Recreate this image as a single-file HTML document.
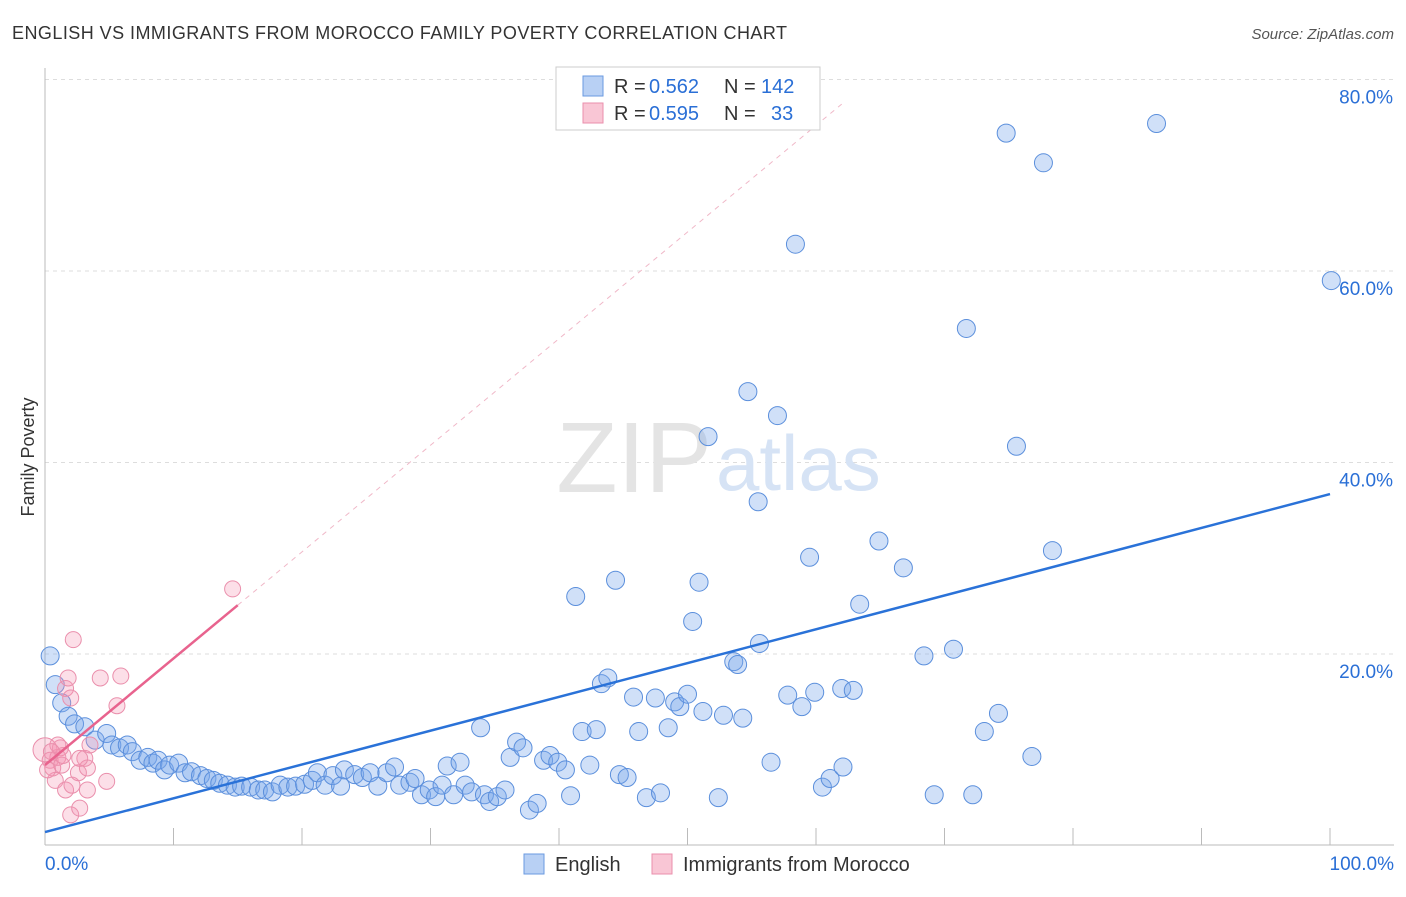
<!DOCTYPE html>
<html><head><meta charset="utf-8"><style>
body{margin:0;background:#fff;font-family:"Liberation Sans",sans-serif;}
svg text{font-family:"Liberation Sans",sans-serif;}
</style></head><body>
<svg id="chart" width="1406" height="892">
<text x="12" y="39" font-size="18" fill="#333" textLength="775">ENGLISH VS IMMIGRANTS FROM MOROCCO FAMILY POVERTY CORRELATION CHART</text>
<text x="1394" y="39" font-size="15" fill="#555" font-style="italic" text-anchor="end">Source: ZipAtlas.com</text>
<text x="34" y="457" font-size="18" fill="#333" transform="rotate(-90 34 457)" text-anchor="middle">Family Poverty</text>
<g id="grid"></g>
<text x="712" y="492" font-size="100" fill="#e4e4e4" text-anchor="end" font-family="Liberation Serif">ZIP</text>
<text x="716" y="490" font-size="78" fill="#d6e3f5">atlas</text>
<g id="pts"></g>
<g id="lines"></g>
<g>
<rect x="556" y="67" width="264" height="63" fill="#fff" stroke="#ccc"/>
<rect x="583" y="76" width="20" height="20" fill="#b8d0f4" stroke="#6a9ae0"/>
<rect x="583" y="103" width="20" height="20" fill="#f9c6d5" stroke="#ea8fac"/>
<text y="93" font-size="20" fill="#333"><tspan x="614">R =</tspan><tspan x="649" fill="#2a6fd6">0.562</tspan><tspan x="724">N =</tspan><tspan x="761" fill="#2a6fd6">142</tspan></text>
<text y="120" font-size="20" fill="#333"><tspan x="614">R =</tspan><tspan x="649" fill="#2a6fd6">0.595</tspan><tspan x="724">N =</tspan><tspan x="771" fill="#2a6fd6">33</tspan></text>
</g>
<g>
<rect x="524" y="854" width="20" height="20" fill="#b8d0f4" stroke="#6a9ae0"/>
<text x="555" y="871" font-size="20" fill="#333">English</text>
<rect x="652" y="854" width="20" height="20" fill="#f9c6d5" stroke="#ea8fac"/>
<text x="683" y="871" font-size="20" fill="#333">Immigrants from Morocco</text>
</g>
</svg>
<script>
const englishX=[0.4,0.8,1.3,1.8,2.3,3.1,3.9,4.8,5.2,5.8,6.4,6.8,7.4,8.0,8.4,8.8,9.3,9.7,10.4,10.9,11.4,12.1,12.6,13.1,13.6,14.2,14.8,15.3,16.0,16.6,17.1,17.7,18.3,18.9,19.5,20.2,20.8,21.2,21.8,22.4,23.0,23.3,24.1,24.7,25.3,25.9,26.6,27.2,27.6,28.4,28.8,29.3,29.9,30.4,30.9,31.3,31.8,32.3,32.7,33.2,33.9,34.2,34.6,35.2,35.8,36.2,36.7,37.2,37.7,38.3,38.8,39.3,39.9,40.5,40.9,41.3,41.8,42.4,42.9,43.3,43.8,44.4,44.7,45.3,45.8,46.2,46.8,47.5,47.9,48.5,49.0,49.4,50.0,50.4,50.9,51.2,51.6,52.4,52.8,53.6,53.9,54.3,54.7,55.5,55.6,56.5,57.0,57.8,58.4,58.9,59.5,59.9,60.5,61.1,62.0,62.1,62.9,63.4,64.9,66.8,68.4,69.2,70.7,71.7,72.2,73.1,74.2,74.8,75.6,76.8,77.7,78.4,86.5,100.1];
const englishY=[19.8,16.8,14.9,13.5,12.7,12.4,11.0,11.7,10.5,10.2,10.5,9.8,8.9,9.2,8.6,8.9,7.9,8.4,8.6,7.6,7.7,7.3,7.0,6.8,6.5,6.3,6.1,6.2,6.1,5.8,5.8,5.6,6.3,6.1,6.2,6.4,6.8,7.6,6.3,7.3,6.2,7.9,7.4,7.1,7.6,6.2,7.6,8.2,6.3,6.6,7.0,5.3,5.8,5.1,6.3,8.3,5.3,8.7,6.3,5.6,12.3,5.3,4.6,5.1,5.8,9.2,10.8,10.2,3.7,4.4,8.9,9.4,8.7,7.9,5.2,26.0,11.9,8.4,12.1,16.9,17.5,27.7,7.4,7.1,15.5,11.9,5.0,15.4,5.5,12.3,15.0,14.5,15.8,23.4,27.5,14.0,42.7,5.0,13.6,19.2,18.9,13.3,47.4,35.9,21.1,8.7,44.9,15.7,62.8,14.5,30.1,16.0,6.1,7.0,16.4,8.2,16.2,25.2,31.8,29.0,19.8,5.3,20.5,54.0,5.3,11.9,13.8,74.4,41.7,9.3,71.3,30.8,75.4,59.0];
const moroccoX=[0,0.4,0.6,1.0,1.3,0.8,0.2,1.2,1.6,1.8,2.0,2.2,1.6,2.0,2.7,2.1,2.6,3.1,3.3,3.3,2.7,4.3,4.8,5.6,5.9,14.6,1.4,1.0,3.5,0.5];
const moroccoY=[10.0,8.9,8.1,9.2,8.4,6.8,7.9,10.2,16.4,17.5,15.4,21.5,5.8,3.2,3.9,6.3,7.6,9.1,8.1,5.8,9.1,17.5,6.7,14.6,17.7,26.8,9.4,10.5,10.5,9.8];
const yTicks=[20,40,60,80];
const trendEnglish=[1.4,36.7];
const trendMorocco=[8.4,25.1];
const NS="http://www.w3.org/2000/svg";
const sx=v=>45+v*12.85, sy=v=>845.5-v*9.575;
function mk(t,a,p){const e=document.createElementNS(NS,t);for(const k in a)e.setAttribute(k,a[k]);p.appendChild(e);return e;}
const grid=document.getElementById('grid');
yTicks.forEach(t=>{
 const l=mk('line',{x1:45,x2:1394,y1:sy(t),y2:sy(t),stroke:'#ddd','stroke-dasharray':'4,4'},grid);
 
 
 const tx=mk('text',{x:1393,y:sy(t)+24,'font-size':19,fill:'#2a6fd6','text-anchor':'end'},grid);
 tx.textContent=t.toFixed(1)+'%';
 
 
});
const ax=mk('line',{x1:45,x2:1394,y1:845,y2:845,stroke:'#bbb'},grid);


const ay=mk('line',{x1:45,x2:45,y1:68,y2:845,stroke:'#bbb'},grid);


for(let i=0;i<=10;i++){const t=mk('line',{x1:sx(i*10),x2:sx(i*10),y1:828,y2:845,stroke:'#bbb'},grid);
 
 }
const xl0=mk('text',{x:45,y:870,'font-size':19,fill:'#2a6fd6'},grid);xl0.textContent='0.0%';


const xl1=mk('text',{x:1394,y:870,'font-size':19,fill:'#2a6fd6','text-anchor':'end'},grid);xl1.textContent='100.0%';


const pts=document.getElementById('pts');
englishX.forEach((x,i)=>{const c=mk('circle',{cx:sx(x),cy:sy(englishY[i]),r:9,fill:'rgba(120,165,235,0.35)',stroke:'#5b8fdc','stroke-width':1},pts);
 
 });
moroccoX.forEach((x,i)=>{const c=mk('circle',{cx:sx(x),cy:sy(moroccoY[i]),r:i===0?12:8,fill:'rgba(245,150,180,0.3)',stroke:'#ea8fac','stroke-width':1},pts);
 
 });
const lines=document.getElementById('lines');
const slopeM=(trendMorocco[1]-trendMorocco[0])/15;
const d=mk('line',{x1:sx(15),y1:sy(trendMorocco[1]),x2:sx(62),y2:sy(trendMorocco[0]+slopeM*62),stroke:'#f0b8c8','stroke-dasharray':'5,5'},lines);


const lm=mk('line',{x1:sx(0),y1:sy(trendMorocco[0]),x2:sx(15),y2:sy(trendMorocco[1]),stroke:'#e8638e','stroke-width':2.5},lines);


const le=mk('line',{x1:sx(0),y1:sy(trendEnglish[0]),x2:sx(100),y2:sy(trendEnglish[1]),stroke:'#2a72d8','stroke-width':2.5},lines);


</script>
</body></html>
